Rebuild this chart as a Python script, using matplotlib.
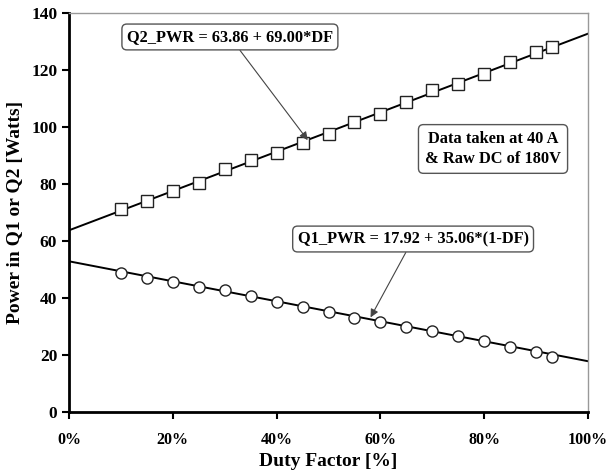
import numpy as np
import matplotlib
matplotlib.use("Agg")
import matplotlib.pyplot as plt
from matplotlib.ticker import FuncFormatter

# duty factor (fraction) of measured points
duty = [0.10, 0.15, 0.20, 0.25, 0.30, 0.35, 0.40, 0.45, 0.50,
        0.55, 0.60, 0.65, 0.70, 0.75, 0.80, 0.85, 0.90, 0.93]
q2_pwr = [71.2, 74.0, 77.6, 80.5, 85.2, 88.4, 91.1, 94.5, 97.8,
          101.9, 104.8, 108.9, 113.0, 115.3, 118.6, 122.9, 126.4, 128.2]
q1_pwr = [49.0, 47.0, 45.6, 43.9, 42.9, 40.8, 38.8, 37.1, 35.1,
          33.2, 31.6, 30.0, 28.6, 26.8, 25.0, 23.0, 21.3, 19.5]

# fit coefficients as printed on the chart
q2_a, q2_b = 63.86, 69.00
q1_a, q1_b = 17.92, 35.06

plt.rcParams['font.family'] = ['Liberation Serif', 'DejaVu Serif']
plt.rcParams['font.weight'] = 'bold'

fig = plt.figure(figsize=(6.07, 4.74), dpi=100)
ax = fig.add_axes([0.1137, 0.1302, 0.855, 0.8417])

df_line = np.array([0.0, 1.0])
ax.plot(df_line, q2_a + q2_b * df_line, color='black', lw=1.4, zorder=2)
ax.plot(df_line, q1_a + q1_b * (1 - df_line), color='black', lw=1.4, zorder=2)

ax.plot(duty, q2_pwr, ls='none', marker='s', ms=8, mfc='white',
        mec='#222222', mew=1.0, zorder=3)
ax.plot(duty, q1_pwr, ls='none', marker='o', ms=8, mfc='white',
        mec='#222222', mew=1.0, zorder=3)

ax.set_xlim(0, 1)
ax.set_ylim(0, 140)
ax.set_xticks(np.arange(0, 1.01, 0.2))
ax.set_yticks(np.arange(0, 141, 20))
ax.xaxis.set_major_formatter(FuncFormatter(lambda v, p: f"{v*100:.0f}%"))
ax.tick_params(axis='both', direction='out', length=5, width=1.5)
ax.tick_params(axis='y', labelsize=12.5)
ax.tick_params(axis='x', labelsize=11.5, pad=9)

for s in ['left', 'bottom']:
    ax.spines[s].set_linewidth(2)
    ax.spines[s].set_color('black')
for s in ['top', 'right']:
    ax.spines[s].set_linewidth(1)
    ax.spines[s].set_color('#999999')

ax.set_xlabel("Duty Factor [%]", fontsize=14, fontweight='bold', labelpad=4)
ax.set_ylabel("Power in Q1 or Q2 [Watts]", fontsize=14, fontweight='bold', labelpad=5)

box = dict(boxstyle='round,pad=0.3,rounding_size=0.3', fc='white', ec='#555555', lw=1)
arrow = dict(arrowstyle='-|>', color='#444444', lw=0.8, mutation_scale=12, shrinkA=0, shrinkB=0)

ax.annotate("Q2_PWR = 63.86 + 69.00*DF", xy=(0.46, 95.5), xytext=(0.31, 131.7),
            fontsize=11.8, fontweight='bold', ha='center', va='center',
            bbox=box, arrowprops=arrow, zorder=5)
ax.annotate("Q1_PWR = 17.92 + 35.06*(1-DF)", xy=(0.581, 33.3), xytext=(0.663, 60.8),
            fontsize=11.8, fontweight='bold', ha='center', va='center',
            bbox=box, arrowprops=arrow, zorder=5)
ax.text(0.817, 92.4, "Data taken at 40 A\n& Raw DC of 180V", fontsize=11.8,
        fontweight='bold', ha='center', va='center', linespacing=1.3,
        bbox=dict(boxstyle='round,pad=0.4,rounding_size=0.3', fc='white', ec='#555555', lw=1))

fig.savefig("out.png", dpi=100)
